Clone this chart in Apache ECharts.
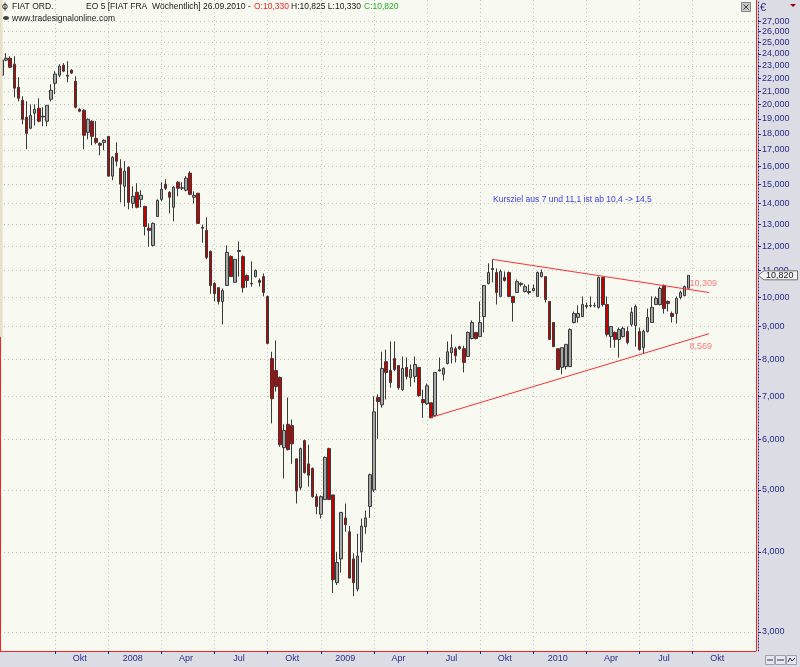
<!DOCTYPE html>
<html><head><meta charset="utf-8">
<script src="https://cdn.jsdelivr.net/npm/echarts@6/dist/echarts.min.js"></script>
<style>html,body{margin:0;padding:0;background:#dcdce4}#c{width:800px;height:667px}</style>
</head><body><div id="c"></div>
<script>
// ---- data ----
const weekStart = '2007-07-02';
const weekCount = 185;
const quarterStarts = ['2007-10-01','2008-01-01','2008-04-01','2008-07-01','2008-10-01','2009-01-01','2009-04-01','2009-07-01','2009-10-01','2010-01-01','2010-04-01','2010-07-01','2010-10-01'];
const quarterLabels = ['Okt','2008','Apr','Jul','Okt','2009','Apr','Jul','Okt','2010','Apr','Jul','Okt'];
const yTickValues = [3,4,5,6,7,8,9,10,11,12,13,14,15,16,17,18,19,20,21,22,23,24,25,26,27];

const open = [22.23,23.47,23.63,23.13,21.29,20.32,19.11,18.37,19.39,19.74,
19.18,18.84,20.39,21.60,22.23,23.05,22.23,22.64,21.75,19.67,
19.60,18.10,18.84,17.71,17.40,17.46,17.84,15.46,16.79,15.91,
14.91,15.96,14.02,14.59,14.22,13.87,12.82,12.05,13.37,14.22,
15.02,14.59,13.82,15.13,14.80,14.70,15.63,14.33,14.54,12.86,
12.72,11.79,10.51,10.35,9.85,10.43,11.58,10.55,11.79,11.58,
10.81,10.51,10.77,10.62,10.77,10.03,8.02,7.68,7.49,5.82,
6.33,6.30,5.59,5.04,5.97,5.49,5.40,4.88,4.58,4.83,
5.80,4.91,3.58,3.90,4.52,4.30,3.90,3.50,4.00,4.38,
4.71,5.00,6.97,6.79,7.93,7.68,8.02,7.82,7.17,7.77,
7.49,7.52,7.77,6.92,6.82,6.84,6.53,7.70,7.58,7.88,
8.19,8.31,8.37,8.31,8.08,8.62,8.81,8.68,9.33,10.51,
11.09,10.93,10.03,10.74,10.93,10.03,10.17,10.51,10.21,10.21,
10.24,10.03,10.77,10.77,9.85,9.13,8.31,7.77,7.79,7.79,
9.13,9.30,9.33,9.71,9.71,9.71,9.64,10.74,9.74,8.68,
8.81,8.59,8.68,8.84,9.07,9.03,8.84,8.34,8.84,9.13,
9.74,9.74,10.43,9.85,9.43,9.43,9.99,10.06,10.33];
const close = [23.47,23.63,22.88,21.22,20.46,18.97,18.04,19.24,19.67,18.84,
19.13,19.95,21.06,22.32,22.97,22.56,22.15,22.40,19.81,19.53,
17.91,18.97,17.84,17.46,17.28,17.59,15.46,16.55,16.31,15.02,
15.74,14.07,14.38,13.82,14.43,12.90,12.72,13.04,14.17,14.75,
14.80,14.33,14.86,14.80,14.83,15.35,14.48,14.43,13.04,12.82,
11.54,10.43,10.13,9.85,10.24,11.75,10.77,11.46,11.83,10.35,
10.62,10.49,11.01,10.55,10.17,8.47,6.94,7.25,5.88,6.19,
5.78,5.90,4.98,5.80,5.32,5.27,4.88,4.71,4.88,5.62,
4.83,3.62,3.85,4.61,4.41,3.64,3.58,3.94,4.39,4.52,
5.28,6.62,6.87,7.74,7.63,7.36,7.71,7.22,7.74,7.52,
7.71,7.85,7.02,6.84,7.27,6.48,7.63,7.67,7.74,8.22,
8.34,8.10,8.31,7.91,8.81,9.13,8.62,9.13,10.43,10.93,
11.05,10.17,10.97,10.62,10.03,9.81,10.58,10.47,10.39,10.17,
10.32,10.93,10.93,9.92,8.59,8.37,7.71,8.34,8.44,8.90,
9.43,9.43,9.74,9.67,9.69,9.70,10.74,9.74,8.75,9.00,
8.59,8.90,8.94,8.50,9.47,9.67,8.28,8.84,9.30,9.64,
9.96,10.32,9.60,9.78,9.33,9.96,10.17,10.39,10.82];
const low = [22.15,23.38,22.80,20.54,20.24,18.63,17.03,18.30,18.56,18.77,
18.50,18.50,20.24,20.77,22.07,22.48,21.67,22.32,19.74,19.46,
17.03,17.65,17.28,17.34,16.67,16.97,15.46,15.24,16.03,14.07,
13.86,13.72,13.77,13.77,13.82,12.49,12.00,12.00,13.37,14.12,
14.70,13.52,13.14,14.38,14.70,14.64,14.43,14.02,13.04,12.17,
11.46,10.13,9.85,9.74,9.07,10.43,10.77,10.55,10.77,10.17,
10.35,10.39,10.74,10.39,10.03,8.47,6.35,7.12,5.84,5.21,
5.76,5.49,4.76,5.00,5.30,5.06,4.86,4.58,4.51,4.83,
4.83,3.45,3.55,3.71,4.30,3.64,3.41,3.47,3.85,4.27,
4.52,4.96,6.01,6.72,6.92,7.22,7.66,7.17,7.14,7.44,
7.25,7.36,6.99,6.48,6.79,6.48,6.51,7.66,7.41,7.85,
7.88,7.91,8.28,7.63,8.08,8.59,8.59,8.68,8.81,10.47,
10.55,9.74,10.03,10.58,10.03,9.16,10.17,10.39,10.17,10.10,
10.21,10.03,10.74,9.81,8.59,8.37,7.71,7.58,7.71,7.79,
9.10,9.13,9.33,9.60,9.64,9.64,9.60,9.67,8.68,8.34,
8.34,8.05,8.65,8.44,9.00,8.37,8.25,8.16,8.81,9.13,
9.74,9.71,9.43,9.50,9.13,9.10,9.92,10.03,10.33];
const high = [23.55,24.06,23.80,23.80,22.07,20.61,20.24,20.02,20.02,20.46,
19.81,19.95,21.52,22.56,23.13,23.22,23.38,22.72,22.15,19.74,
19.67,19.04,18.90,18.84,17.46,17.65,17.84,16.61,17.46,16.43,
16.31,16.02,14.91,15.07,14.70,13.87,13.04,13.09,14.22,15.13,
15.29,14.64,14.91,15.18,15.13,15.46,15.74,14.64,14.54,12.99,
13.33,11.83,10.55,10.35,10.32,12.05,11.63,11.46,12.22,11.63,
10.85,11.38,11.05,10.70,10.89,10.06,8.22,8.56,7.52,6.33,
6.97,6.44,5.59,5.82,5.99,5.88,5.42,4.93,4.90,5.64,
5.82,4.91,4.00,4.61,4.76,4.39,3.98,4.27,4.51,4.64,
5.30,7.00,7.05,8.22,8.28,8.53,8.53,7.82,8.08,8.05,
7.85,8.08,7.77,7.17,7.33,6.84,7.63,8.05,7.77,8.53,
8.75,8.37,8.40,8.40,8.84,9.20,8.81,9.85,10.43,11.30,
11.46,11.09,11.05,10.97,10.97,10.03,10.66,10.55,10.47,10.47,
10.47,10.97,11.05,10.77,9.85,9.13,8.31,8.34,8.44,8.94,
9.50,9.71,10.03,9.81,10.03,9.81,10.77,10.74,10.03,9.00,
8.84,8.97,9.00,9.00,9.64,9.74,8.97,8.90,9.60,10.03,
10.03,10.39,10.47,9.88,9.50,10.03,10.24,10.43,10.825];

const upperTrend = [[120, 11.46], [173, 10.17]];
const lowerTrend = [[105, 6.49], [173, 8.77]];
const upperTrendLabel = [168, 10.309];
const lowerTrendLabel = [168, 8.569];
const lastPrice = 10.82;
const annotation = 'Kursziel aus 7 und 11,1 ist ab 10,4 -> 14,5';

// ---- build ----
const DAY = 86400000;
const t0 = Date.parse(weekStart + 'T00:00:00Z');
const categories = [];
for (let i = 0; i < weekCount; i++) categories.push(new Date(t0 + i * 7 * DAY).toISOString().slice(0, 10));
const tickIdx = {}, labelIdx = {};
quarterStarts.forEach((s, k) => {
  const i = Math.floor((Date.parse(s + 'T00:00:00Z') - t0) / (7 * DAY));
  tickIdx[i] = true; labelIdx[i + 6] = quarterLabels[k];
});
const candles = open.map((o, i) => [o, close[i], low[i], high[i]]);
const fmt = v => v.toFixed(3).replace('.', ',');
const FF = '"Liberation Sans", Arial, sans-serif';
const NAVY = '#2a2a8c';

const chart = echarts.init(document.getElementById('c'), null, {renderer: 'canvas'});
chart.setOption({
  animation: false,
  backgroundColor: '#dcdce4',
  grid: {left: 0, right: 44, top: 0, bottom: 16, show: true, backgroundColor: '#f8f9f1', borderWidth: 0},
  xAxis: {
    type: 'category', data: categories, boundaryGap: true,
    axisLine: {show: true, lineStyle: {color: '#ff2020', width: 1}},
    axisTick: {show: true, alignWithLabel: true, interval: i => !!tickIdx[i], length: 3, lineStyle: {color: NAVY}},
    axisLabel: {interval: i => labelIdx[i] !== undefined, formatter: (v, i) => labelIdx[i] || '', color: NAVY, fontSize: 9, fontFamily: FF, margin: 3},
    splitLine: {show: true, interval: i => !!tickIdx[i], alignWithLabel: true, lineStyle: {color: '#c4c4c4', type: [1, 3]}}
  },
  yAxis: {
    type: 'log', logBase: 10, position: 'right', min: 2.8, max: 29.14, offset: 2,
    axisLine: {show: true, lineStyle: {color: NAVY, type: [1, 2]}},
    axisTick: {show: true, length: 3, customValues: yTickValues, lineStyle: {color: NAVY}},
    axisLabel: {customValues: yTickValues, formatter: v => fmt(v), color: NAVY, fontSize: 9, fontFamily: FF, margin: 4},
    splitLine: {show: true, lineStyle: {color: '#c4c4c4', type: [1, 3]}}
  },
  series: [
    {type: 'candlestick', data: candles, barWidth: 3, silent: true,
     itemStyle: {color: '#a6a6a6', color0: '#c80000', borderColor: '#3a3a3a', borderColor0: '#3a3a3a', borderWidth: 1}},
    {type: 'line', data: upperTrend, symbol: 'none', silent: true, lineStyle: {color: '#ff3030', width: 1}, z: 3},
    {type: 'line', data: lowerTrend, symbol: 'none', silent: true, lineStyle: {color: '#ff3030', width: 1}, z: 3},
    {type: 'scatter', data: [upperTrendLabel], symbolSize: 0, silent: true,
     label: {show: true, formatter: p => fmt(p.value[1]), position: 'right', distance: 1, offset: [0, -5], color: '#ff5a5a', fontSize: 9, fontFamily: FF}},
    {type: 'scatter', data: [lowerTrendLabel], symbolSize: 0, silent: true,
     label: {show: true, formatter: p => fmt(p.value[1]), position: 'right', distance: 1, offset: [0, 6], color: '#ff5a5a', fontSize: 9, fontFamily: FF}}
  ]
});

const py = chart.convertToPixel({yAxisIndex: 0}, lastPrice);
const T = (text, x, y, color, size, extra) => Object.assign({type: 'text', z: 100, style: {text, x, y, fill: color, font: (size || 8.5) + 'px ' + FF, verticalAlign: 'middle'}}, extra || {});
chart.setOption({
  graphic: [
    {type: 'rect', z: 90, shape: {x: 0, y: 0, width: 2.5, height: 337}, style: {fill: '#e8dfc8'}},
    {type: 'line', z: 90, shape: {x1: 0.5, y1: 337, x2: 0.5, y2: 651}, style: {stroke: '#ff2020', lineWidth: 1}},
    {type: 'line', z: 90, shape: {x1: 756.5, y1: 0, x2: 756.5, y2: 651}, style: {stroke: '#ff2020', lineWidth: 1}},
    // header
    {type: 'circle', z: 100, shape: {cx: 5, cy: 6.5, r: 2.3}, style: {fill: 'none', stroke: '#303030', lineWidth: 1}},
    {type: 'line', z: 100, shape: {x1: 5, y1: 2.5, x2: 5, y2: 10.5}, style: {stroke: '#303030', lineWidth: 1}},
    T('FIAT ORD.', 12, 6.5, '#202020'),
    T('EO 5 [FIAT FRA  W\u00f6chentlich] 26.09.2010 -', 86, 6.5, '#202020'),
    T('O:10,330', 254, 6.5, '#ff2020'),
    T('H:10,825 L:10,330', 291, 6.5, '#202020'),
    T('C:10,820', 364, 6.5, '#20b020'),
    {type: 'ellipse', z: 100, shape: {cx: 6, cy: 18, rx: 3, ry: 2}, style: {fill: '#404040'}},
    T('www.tradesignalonline.com', 12, 18.5, '#202020'),
    T(annotation, 493, 200, '#3a3aff'),
    // top right
    {type: 'rect', z: 100, shape: {x: 741.5, y: 2.5, width: 9, height: 9}, style: {fill: '#c8c8c8', stroke: '#888888', lineWidth: 1}},
    {type: 'line', z: 101, shape: {x1: 743.5, y1: 4.5, x2: 748.5, y2: 9.5}, style: {stroke: '#404040', lineWidth: 1}},
    {type: 'line', z: 101, shape: {x1: 748.5, y1: 4.5, x2: 743.5, y2: 9.5}, style: {stroke: '#404040', lineWidth: 1}},
    T('\u20ac', 760, 7.5, NAVY, 11),
    {type: 'polygon', z: 100, shape: {points: [[790, 4], [796, 4], [793, 7]]}, style: {fill: '#a00000'}},
    // last price tag
    {type: 'polygon', z: 110, shape: {points: [[758, py], [764, py - 4.5], [797.5, py - 4.5], [797.5, py + 4.5], [764, py + 4.5]]}, style: {fill: '#f2f2f2', stroke: '#707070', lineWidth: 1}},
    T(fmt(lastPrice), 766, py + 0.5, '#202020', 9, {z: 111}),
    // bottom right buttons
    {type: 'rect', z: 100, shape: {x: 765.5, y: 655.5, width: 9, height: 9}, style: {fill: '#e6e6ee', stroke: '#a0a0a8', lineWidth: 1}},
    {type: 'rect', z: 100, shape: {x: 775.5, y: 655.5, width: 10, height: 9}, style: {fill: '#e6e6ee', stroke: '#a0a0a8', lineWidth: 1}},
    {type: 'rect', z: 100, shape: {x: 786.5, y: 655.5, width: 10, height: 9}, style: {fill: '#e6e6ee', stroke: '#a0a0a8', lineWidth: 1}},
    {type: 'line', z: 101, shape: {x1: 767, y1: 660, x2: 773, y2: 660}, style: {stroke: '#303040', lineWidth: 1}},
    {type: 'line', z: 101, shape: {x1: 777, y1: 660, x2: 784, y2: 660}, style: {stroke: '#303040', lineWidth: 1}},
    {type: 'polyline', z: 101, shape: {points: [[788, 662], [790, 658], [792, 661], [795, 658]]}, style: {stroke: '#303040', lineWidth: 1, fill: 'none'}}
  ]
});
</script></body></html>
